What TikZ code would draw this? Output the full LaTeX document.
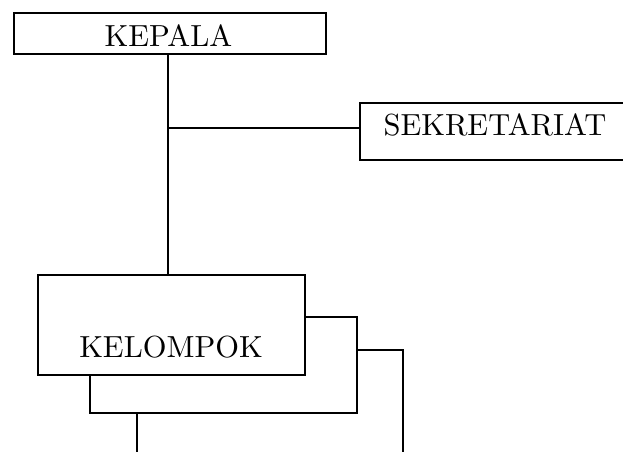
\documentclass[tikz,border=0pt]{standalone}
\usepackage{graphicx}
\newcommand{\bigtxt}[1]{\scalebox{3.05}{\fontsize{10}{12}\selectfont #1}}
\begin{document}
\begin{tikzpicture}[x=1pt,y=1pt,
  box/.style={draw=black, line width=1.6pt, fill=white, inner sep=0pt, anchor=north west},
  lbl/.style={anchor=base, inner sep=0pt},
  conn/.style={draw=black, line width=1.6pt}]
\path[use as bounding box, clip] (0,0) rectangle (623,-451);
% KEPALA
\node[box, minimum width=312pt, minimum height=41pt] (kepala) at (13,-12) {};
\node[lbl] (kepalat) at (168.5,-46) {\bigtxt{KEPALA}};
% SEKRETARIAT (right side runs off the picture)
\node[box, minimum width=300pt, minimum height=57pt] (sek) at (359,-102) {};
\node[lbl] (sekt) at (495,-135) {\bigtxt{SEKRETARIAT}};
% KELOMPOK stack (back to front)
\node[box, minimum width=266pt, minimum height=120pt] (kel3) at (136,-349) {};
\node[box, minimum width=267pt, minimum height=96pt] (kel2) at (89,-316) {};
\node[box, minimum width=267pt, minimum height=100pt] (kel1) at (37,-274) {};
\node[lbl] (kelt) at (171,-357) {\bigtxt{KELOMPOK}};
% connectors
\coordinate (br) at (168,-128);
\draw[conn] (kepala.south -| br) -- (kel1.north -| br);
\draw[conn] (br) -- (br -| sek.west);
\end{tikzpicture}
\end{document}
